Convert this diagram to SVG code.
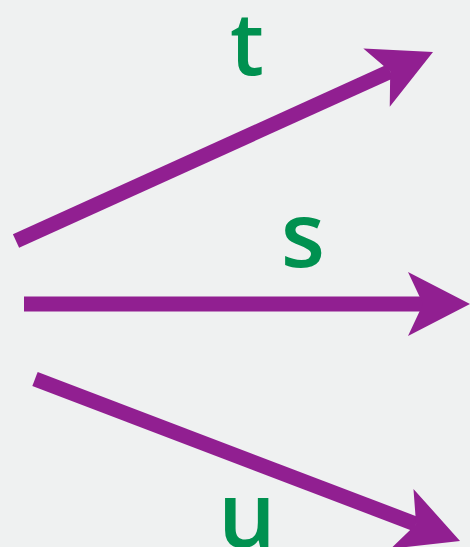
<svg xmlns="http://www.w3.org/2000/svg" width="470" height="547" viewBox="0 0 470 547">
<style>
.arrow{fill:none;stroke:#911f91;stroke-width:15;stroke-linecap:butt;marker-end:url(#head)}
.lbl{font-family:"Open Sans","Liberation Sans",sans-serif;font-size:91px;font-weight:600;fill:#009150;text-anchor:middle}
</style>
<defs>
<marker id="head" markerUnits="userSpaceOnUse" markerWidth="70" markerHeight="70" viewBox="0 -35 70 70" refX="15" refY="0" orient="auto" overflow="visible">
<path d="M62,0 L0,-32 L15,0 L0,32 Z" fill="#911f91"/>
</marker>
</defs>
<rect width="470" height="547" fill="#eff1f1"/>
<g id="connectors">
<line class="arrow" x1="16" y1="241" x2="390.2" y2="71.4"/>
<line class="arrow" x1="24" y1="304" x2="423" y2="304"/>
<line class="arrow" x1="35" y1="379" x2="416.1" y2="524.2"/>
</g>
<g id="label-t"><text class="lbl" x="247" y="75" style="font-size:86px">t</text></g>
<g id="label-s"><text class="lbl" x="303" y="267">s</text></g>
<g id="label-u"><text class="lbl" x="247" y="547">u</text></g>
</svg>
